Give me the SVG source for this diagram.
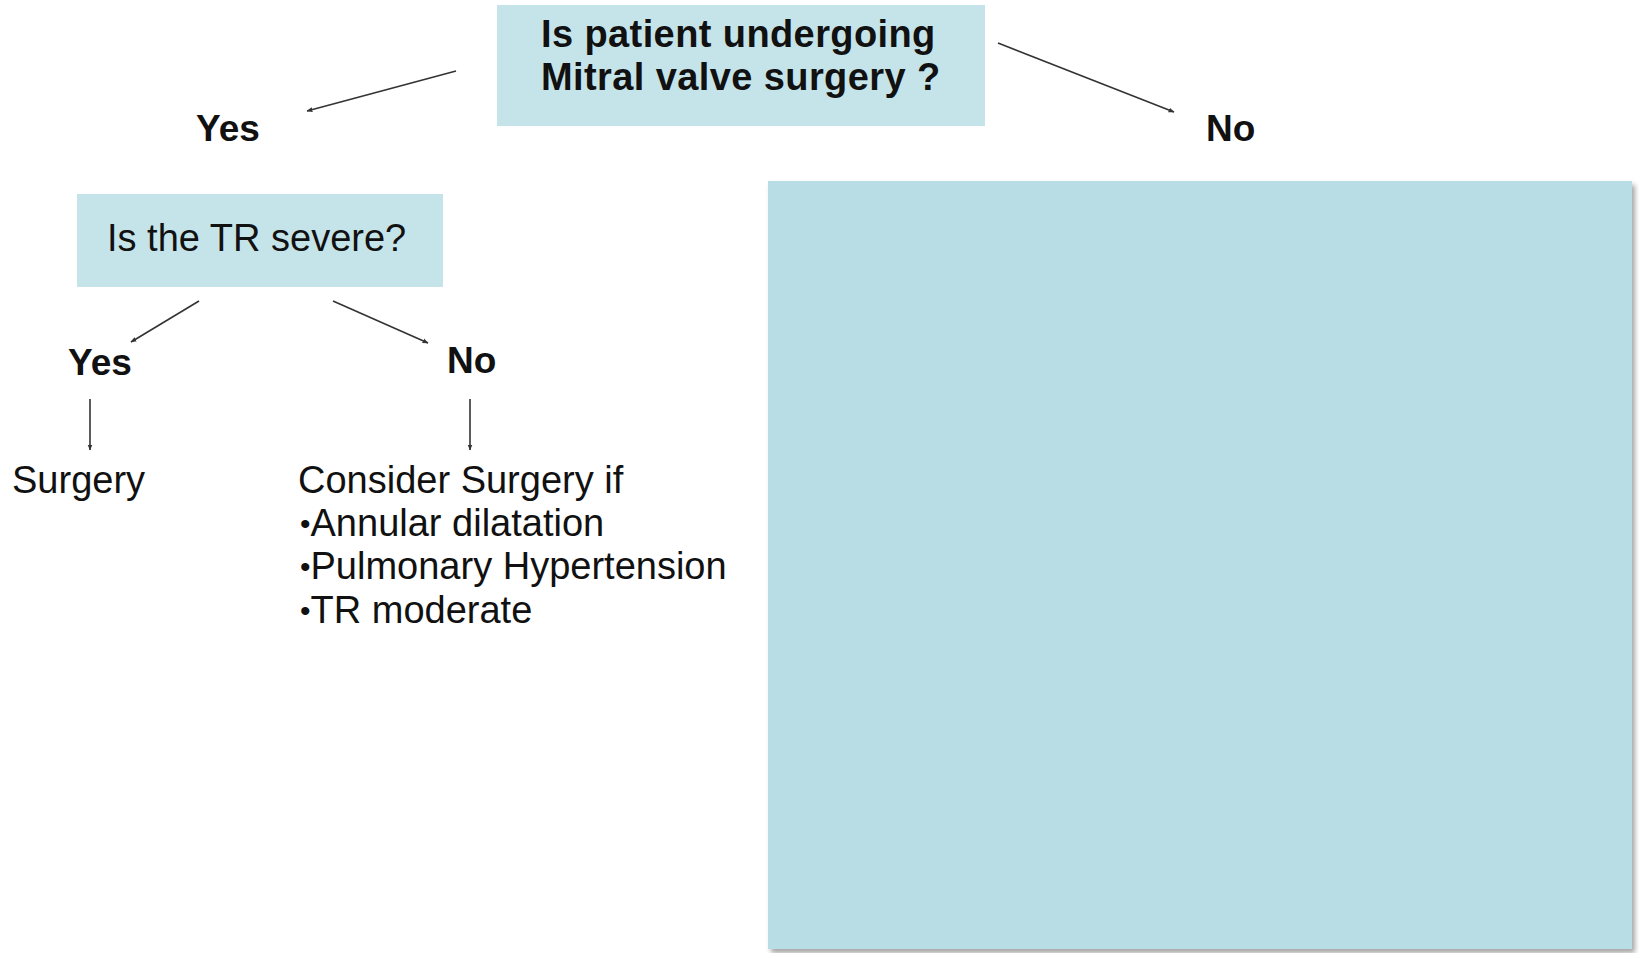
<svg xmlns="http://www.w3.org/2000/svg" width="1639" height="953" viewBox="0 0 1639 953">
<style>
.box{fill:#c5e4ea}
.big{fill:#b8dde5}
.t{font-family:"Liberation Sans",Arial,sans-serif;font-size:38px;fill:#111}
.b{font-family:"Liberation Sans",Arial,sans-serif;font-size:37px;font-weight:bold;fill:#111}
.hd{font-size:38px;letter-spacing:0.4px}
.bu{font-size:30px}
.c{stroke:#333;stroke-width:1.6;fill:none;marker-end:url(#ah)}
</style>
<defs>
<marker id="ah" viewBox="0 0 10 10" refX="9" refY="5" markerWidth="6" markerHeight="6" markerUnits="userSpaceOnUse" orient="auto">
<path d="M0,1 L10,5 L0,9 z" fill="#333"/>
</marker>
<filter id="sh" x="-5%" y="-5%" width="115%" height="115%">
<feGaussianBlur in="SourceAlpha" stdDeviation="2.5"/>
<feOffset dx="3" dy="4" result="o"/>
<feFlood flood-color="#000" flood-opacity="0.35"/>
<feComposite in2="o" operator="in"/>
<feMerge><feMergeNode/><feMergeNode in="SourceGraphic"/></feMerge>
</filter>
</defs>
<rect width="1639" height="953" fill="#fff"/>
<g id="q1">
<rect class="box" x="497" y="5" width="488" height="121"/>
<text class="b hd" x="541" y="47">Is patient undergoing</text>
<text class="b hd" x="541" y="90">Mitral valve surgery ?</text>
</g>
<g id="yes1"><text class="b" x="196" y="141">Yes</text></g>
<g id="no1"><text class="b" x="1206" y="141">No</text></g>
<g id="q2">
<rect class="box" x="77" y="194" width="366" height="93"/>
<text class="t" x="107" y="251">Is the TR severe?</text>
</g>
<g id="yes2"><text class="b" x="68" y="375">Yes</text></g>
<g id="no2"><text class="b" x="447" y="373">No</text></g>
<g id="surgery"><text class="t" x="12" y="493">Surgery</text></g>
<g id="consider">
<text class="t" x="298" y="493">Consider Surgery if</text>
<text class="t" x="300" y="536"><tspan class="bu" dy="-2">•</tspan><tspan dy="2">Annular dilatation</tspan></text>
<text class="t" x="300" y="579"><tspan class="bu" dy="-2">•</tspan><tspan dy="2">Pulmonary Hypertension</tspan></text>
<text class="t" x="300" y="623"><tspan class="bu" dy="-2">•</tspan><tspan dy="2">TR moderate</tspan></text>
</g>
<g id="panel">
<rect class="big" x="768" y="181" width="864" height="768" filter="url(#sh)"/>
</g>
<g id="connectors">
<line class="c" x1="456" y1="71" x2="307" y2="111"/>
<line class="c" x1="998" y1="43" x2="1174" y2="112"/>
<line class="c" x1="199" y1="301" x2="131" y2="342"/>
<line class="c" x1="333" y1="301" x2="428" y2="343"/>
<line class="c" x1="90" y1="399" x2="90" y2="450"/>
<line class="c" x1="470" y1="399" x2="470" y2="450"/>
</g>
</svg>
